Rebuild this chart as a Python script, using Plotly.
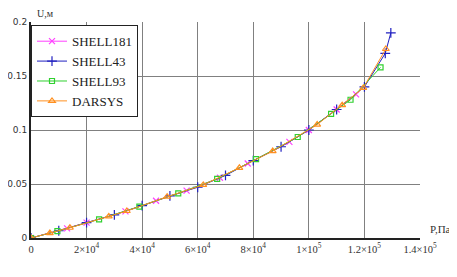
import plotly.graph_objects as go

# SHELL181 (magenta x)
p_181 = [0, 13000, 20000, 34000, 45000, 56000, 68000, 78000, 93000, 100000, 110000, 117000]
u_181 = [0, 0.0089, 0.0142, 0.0247, 0.0345, 0.0438, 0.0558, 0.0690, 0.0890, 0.1000, 0.1190, 0.1330]
# SHELL43 (blue +)
p_43 = [0, 10000, 20000, 30000, 40000, 50000, 60000, 70000, 80000, 90000, 100000, 110000, 120000, 127500, 129500]
u_43 = [0, 0.0067, 0.0142, 0.0215, 0.0300, 0.0390, 0.0470, 0.0580, 0.0716, 0.0845, 0.1000, 0.1190, 0.1400, 0.1710, 0.1900]
# SHELL93 (green squares)
p_93 = [0, 9500, 24500, 39000, 53000, 67000, 81000, 96000, 108000, 115000, 125800]
u_93 = [0, 0.0064, 0.0173, 0.0291, 0.0414, 0.0547, 0.0730, 0.0935, 0.1150, 0.1280, 0.1580]
# DARSYS (orange triangles)
p_ds = [0, 6800, 14000, 28000, 34500, 49000, 62000, 75000, 87000, 103000, 112000, 119600, 127700]
u_ds = [0, 0.0046, 0.0095, 0.0200, 0.0250, 0.0382, 0.0492, 0.0650, 0.0805, 0.1050, 0.1230, 0.1390, 0.1750]

x_ticks = [0, 20000, 40000, 60000, 80000, 100000, 120000, 140000]
x_labels = ["0", "2×10<sup>4</sup>", "4×10<sup>4</sup>", "6×10<sup>4</sup>", "8×10<sup>4</sup>",
            "1×10<sup>5</sup>", "1.2×10<sup>5</sup>", "1.4×10<sup>5</sup>"]
y_ticks = [0, 0.05, 0.1, 0.15, 0.2]
y_labels = ["0", "0.05", "0.1", "0.15", "0.2"]

SERIF = "Liberation Serif, Times New Roman, serif"

fig = go.Figure()
series = [
    ("SHELL181", p_181, u_181, "#ff40ff", "x-thin-open", 6),
    ("SHELL43", p_43, u_43, "#2020c0", "cross-thin-open", 7),
    ("SHELL93", p_93, u_93, "#30d030", "square-open", 5),
    ("DARSYS", p_ds, u_ds, "#ff9020", "triangle-up-open", 6),
]
for name, xs, ys, col, sym, sz in series:
    fig.add_trace(go.Scatter(x=xs, y=ys, name=name, mode="lines+markers",
                             line=dict(color=col, width=1),
                             marker=dict(symbol=sym, size=sz, color=col,
                                         line=dict(color=col, width=1.2))))

# page has an 8px body margin, so the figure is sized/offset to land like the reference
fig.update_layout(
    width=449, height=269,
    margin=dict(l=23, r=37, t=14, b=39),
    paper_bgcolor="white", plot_bgcolor="white",
    showlegend=True,
    legend=dict(x=0.0, y=0.985, xanchor="left", yanchor="top",
                bgcolor="white", bordercolor="#222222", borderwidth=1,
                font=dict(family=SERIF, size=13, color="#222222"),
                tracegroupgap=0, itemsizing="trace", itemwidth=30),
    xaxis=dict(range=[0, 140000], tickvals=x_ticks, ticktext=x_labels,
               showgrid=True, gridcolor="#808080", gridwidth=1, automargin=False,
               showline=True, linecolor="#222222", linewidth=2, zeroline=False,
               ticks="", tickfont=dict(family=SERIF, size=10.5, color="#333333")),
    yaxis=dict(range=[0, 0.2], tickvals=y_ticks, ticktext=y_labels,
               showgrid=True, gridcolor="#808080", gridwidth=1, automargin=False,
               showline=True, linecolor="#222222", linewidth=2, zeroline=False,
               ticks="", ticklabelstandoff=0,
               tickfont=dict(family="DejaVu Sans", size=9, color="#333333")),
    annotations=[
        dict(text="U,м", xref="paper", yref="paper", x=0.0, y=1.0, xshift=4, yshift=1,
             xanchor="left", yanchor="bottom", showarrow=False,
             font=dict(family=SERIF, size=10, color="#333333")),
        dict(text="P,Па", xref="paper", yref="paper", x=1.0, y=0.0, xshift=33, yshift=1,
             xanchor="right", yanchor="bottom", showarrow=False,
             font=dict(family=SERIF, size=11, color="#333333")),
    ],
)
fig.write_html("out.html")
